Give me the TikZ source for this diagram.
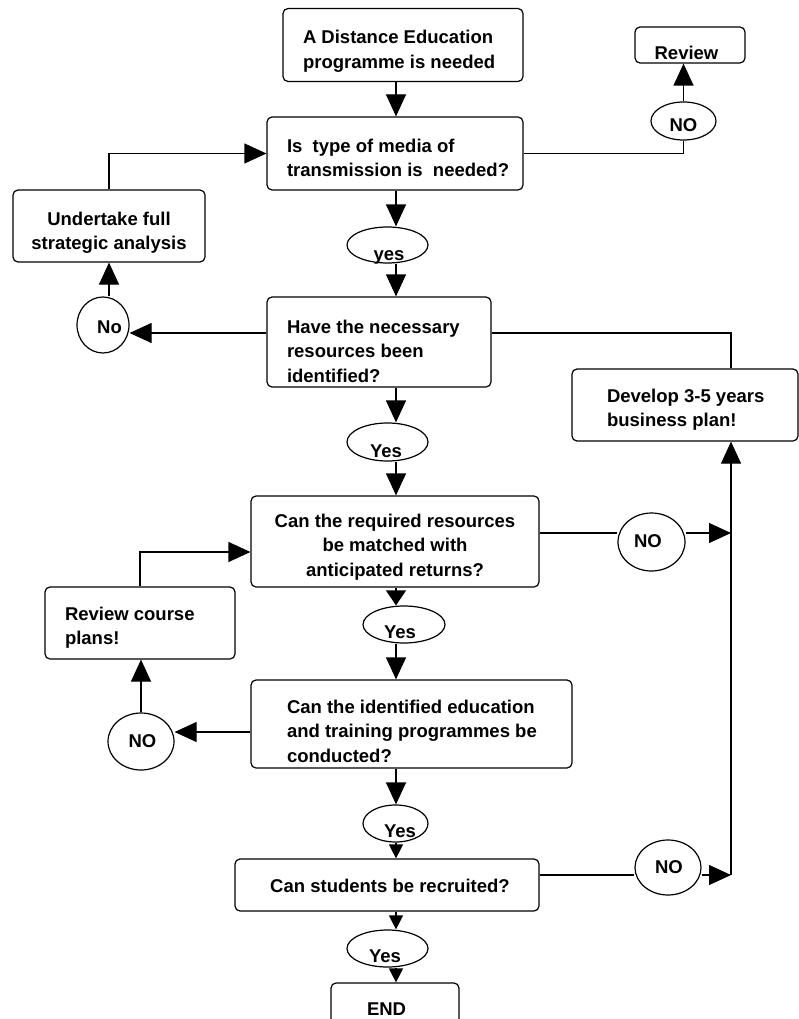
\documentclass[tikz,border=0pt]{standalone}
\usepackage{fontspec}
\setmainfont{Liberation Sans}
\usetikzlibrary{arrows.meta,shapes.geometric}
% box text: #1 width, #2 l/c, #3 left pad, #4 first baseline below centre, #5 lines
\newcommand\btxt[5]{\raisebox{-#4}[0pt][0pt]{\makebox[#1][#2]{\hspace*{#3}\begin{tabular}[t]{@{}#2@{}}#5\end{tabular}}}}
% ellipse text: #1 x shift, #2 baseline below centre, #3 text
\newcommand\etxt[3]{\raisebox{-#2}[0pt][0pt]{\makebox[0pt]{\hspace*{#1}\hspace*{#1}#3}}}
\tikzset{
  lab/.style={font=\fontsize{18.5}{24.5}\selectfont\bfseries},
  box/.style={lab, draw, rectangle, rounded corners=5pt, inner sep=0pt, line width=1.2pt},
  oval/.style={lab, draw, ellipse, inner sep=0pt, line width=1.2pt},
  link/.style={line width=1.2pt},
  arr/.style={link, -{Triangle[length=22pt,width=20pt]}},
  marr/.style={link, -{Triangle[length=15pt,width=20pt]}},
  sarr/.style={link, -{Triangle[length=14pt,width=14pt]}},
}
\begin{document}
\begin{tikzpicture}[x=1pt,y=-1pt]
\useasboundingbox (0,0) rectangle (799,1019);
% boxes
\node[box, minimum height=73pt] (b1) at (403,45) {\btxt{240pt}{l}{20pt}{-1pt}{A Distance Education\\programme is needed}};
\node[box, minimum height=73pt] (b2) at (395,153.5) {\btxt{256pt}{l}{20pt}{-1.5pt}{Is\ \ type of media of\\transmission is\ \ needed?}};
\node[box, minimum height=36pt] (rev) at (690,45) {\btxt{110pt}{c}{-7pt}{15pt}{Review}};
\node[box, minimum height=72pt] (ut) at (109,226) {\btxt{192pt}{c}{0pt}{-1pt}{Undertake full\\strategic analysis}};
\node[box, minimum height=90pt] (b3) at (379,342) {\btxt{224pt}{l}{20pt}{-9pt}{Have the necessary\\resources been\\identified?}};
\node[box, minimum height=72pt] (dev) at (685,405) {\btxt{226pt}{l}{35pt}{-3pt}{Develop 3-5 years\\business plan!}};
\node[box, minimum height=91pt] (b4) at (395,541.5) {\btxt{288pt}{c}{0pt}{-14.5pt}{Can the required resources\\be matched with\\anticipated returns?}};
\node[box, minimum height=72pt] (rcp) at (140,623) {\btxt{190pt}{l}{20pt}{-3pt}{Review course\\plans!}};
\node[box, minimum height=88pt] (b5) at (411.5,724) {\btxt{321pt}{l}{36pt}{-11pt}{Can the identified education\\and training programmes be\\conducted?}};
\node[box, minimum height=52pt] (b6) at (387,885) {\btxt{304pt}{c}{6pt}{7pt}{Can students be recruited?}};
\node[box, minimum height=62pt] (fin) at (395,1014) {\btxt{128pt}{l}{36pt}{1.5pt}{END}};
% ovals
\node[oval, minimum width=65pt, minimum height=38pt] (e1) at (683.5,121) {\etxt{0pt}{11pt}{NO}};
\node[oval, minimum width=81pt, minimum height=36pt] (e2) at (387.5,245) {\etxt{1.5pt}{15pt}{yes}};
\node[oval, minimum width=52pt, minimum height=56pt] (e3) at (103,325) {\etxt{6.5pt}{8pt}{No}};
\node[oval, minimum width=81pt, minimum height=38pt] (e4) at (387.5,442) {\etxt{-1.5pt}{15pt}{Yes}};
\node[oval, minimum width=67pt, minimum height=58pt] (e5) at (651.5,542) {\etxt{-3.5pt}{5pt}{NO}};
\node[oval, minimum width=82pt, minimum height=37pt] (e6) at (404,624.5) {\etxt{-4pt}{13.5pt}{Yes}};
\node[oval, minimum width=66pt, minimum height=57pt] (e7) at (141,741.5) {\etxt{1.5pt}{5.5pt}{NO}};
\node[oval, minimum width=65pt, minimum height=37pt] (e8) at (395.5,823.5) {\etxt{4.5pt}{13.5pt}{Yes}};
\node[oval, minimum width=66pt, minimum height=55pt] (e9) at (668,867.5) {\etxt{1pt}{5.5pt}{NO}};
\node[oval, minimum width=81pt, minimum height=37pt] (e10) at (387.5,948.5) {\etxt{-2.5pt}{13.5pt}{Yes}};
% helper coordinates
\coordinate (cx) at (396,0);
\coordinate (cr) at (731,0);
\coordinate (ya) at (0,333);
\coordinate (yb) at (0,533);
\coordinate (yc) at (0,552);
\coordinate (yd) at (0,732);
\coordinate (ye) at (0,875);
% connectors
\draw[arr] (b1.south -| cx) -- (b2.north -| cx);
\draw[link] (b2.east) -| (e1.south);
\draw[arr] (e1.north) -- (rev.south -| e1.north);
\draw[arr] (ut.north) |- (b2.west);
\draw[arr] (b2.south -| cx) -- (e2.north -| cx);
\draw[arr] (e2.south -| cx) -- (b3.north -| cx);
\draw[arr] (b3.west |- ya) -- (e3.east |- ya);
\draw[arr] (e3.north -| ut.south) -- (ut.south);
\draw[link] (b3.east |- ya) -| (dev.north -| cr);
\draw[arr] (b3.south -| cx) -- (e4.north -| cx);
\draw[arr] (e4.south -| cx) -- (b4.north -| cx);
\draw[link] (b4.east |- yb) -- (e5.west |- yb);
\draw[arr] (e5.east |- yb) -- (cr |- yb);
\draw[arr] (cr |- ye) -- (dev.south -| cr);
\draw[arr] (rcp.north) |- (b4.west |- yc);
\draw[marr] (b4.south -| cx) -- (e6.north -| cx);
\draw[arr] (e6.south -| cx) -- (b5.north -| cx);
\draw[arr] (b5.west |- yd) -- (e7.east |- yd);
\draw[arr] (e7.north) -- (rcp.south -| e7.north);
\draw[arr] (b5.south -| cx) -- (e8.north -| cx);
\draw[sarr] (e8.south -| cx) -- (b6.north -| cx);
\draw[link] (b6.east |- ye) -- (e9.west |- ye);
\draw[arr] (e9.east |- ye) -- (cr |- ye);
\draw[sarr] (b6.south -| cx) -- (e10.north -| cx);
\draw[sarr] (e10.south -| cx) -- (fin.north -| cx);
\end{tikzpicture}
\end{document}
